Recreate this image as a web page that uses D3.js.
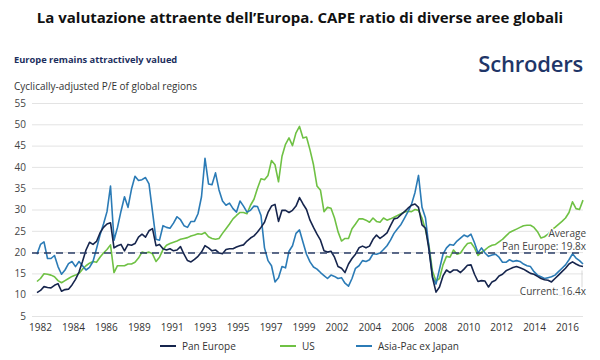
<!DOCTYPE html>
<html><head><meta charset="utf-8">
<script src="https://cdn.jsdelivr.net/npm/d3@7"></script>
<style>body{margin:0;background:#fff} text{font-family:"Open Sans",sans-serif}</style>
</head><body><svg id="c" width="600" height="360"></svg>
<script>
const tickLabels = ["1982","1984","1986","1989","1991","1993","1995","1997","1999","2002","2004","2006","2008","2010","2012","2014","2016"];
const yTicks = [5,10,15,20,25,30,35,40,45,50,55];
const seriesNames = ["Pan Europe","US","Asia-Pac ex Japan"];
const panEurope = [
10.5,11.0,11.9,11.7,11.6,12.2,12.6,10.8,11.2,11.3,
12.3,13.6,15.3,17.8,20.5,22.3,21.8,22.5,24.5,25.8,
26.6,26.9,21.0,21.5,21.8,20.3,21.8,21.6,22.0,23.5,
24.2,23.5,25.0,25.5,21.5,21.8,20.8,20.5,20.8,20.3,
20.5,21.3,19.5,18.0,17.7,18.3,19.0,20.0,21.5,21.0,
20.3,20.5,19.8,19.6,20.6,20.8,20.8,21.2,21.5,21.7,
22.6,23.3,23.8,24.7,25.8,27.0,29.3,30.8,31.2,27.2,
29.8,29.8,29.3,29.8,30.8,32.8,31.3,30.0,27.5,25.8,
24.2,22.8,20.3,20.0,20.2,18.8,16.6,16.2,15.2,17.2,
18.5,19.5,21.0,21.4,21.0,21.4,23.0,24.0,23.2,23.8,
24.5,26.2,27.8,28.0,28.8,29.5,30.3,31.0,31.3,30.5,
26.4,25.6,20.5,14.0,10.6,11.8,14.4,15.8,15.2,15.8,
15.8,15.2,16.0,16.9,17.0,14.8,13.1,13.3,13.2,11.8,
13.0,13.4,14.4,14.8,15.6,16.0,16.4,16.6,16.3,16.0,
15.5,15.0,14.8,14.3,13.8,13.5,13.4,13.0,13.8,14.6,
15.4,16.2,17.2,17.7,17.2,16.8,16.6];
const us = [
13.1,13.8,14.9,14.8,14.6,14.2,13.3,12.8,13.3,13.8,
14.3,14.6,15.0,16.0,16.8,17.4,17.8,17.6,18.8,19.8,
20.6,21.7,15.2,16.8,16.8,16.8,17.2,17.2,17.6,18.6,
20.0,19.8,20.0,19.6,17.8,18.8,20.6,21.6,22.0,22.3,
22.6,23.0,23.2,23.4,23.8,24.0,24.3,24.2,24.6,23.6,
23.2,23.0,23.2,24.4,25.5,26.6,27.8,28.6,29.3,29.3,
29.0,31.0,32.4,35.0,37.2,37.0,38.0,41.5,40.5,36.5,
42.5,45.3,46.8,45.0,48.0,49.5,46.8,47.0,44.0,40.5,
35.5,34.5,29.5,30.5,30.3,28.0,24.8,22.6,23.2,23.2,
25.5,26.6,27.8,27.8,27.5,27.0,28.0,27.2,27.0,28.0,
27.5,27.8,28.2,28.6,29.0,29.4,29.6,29.5,30.0,29.8,
28.0,25.2,21.5,15.5,13.2,13.8,17.0,19.0,18.8,20.5,
19.5,19.8,21.0,22.0,22.2,21.0,19.2,20.0,20.5,21.2,
21.6,21.8,22.4,23.0,23.8,24.6,25.0,25.4,25.8,26.2,
26.3,26.3,25.8,24.8,23.3,23.6,24.2,25.2,25.8,26.5,
27.2,28.0,29.3,31.8,30.2,30.0,32.2];
const asiaPac = [
19.5,21.8,22.4,18.5,18.5,19.2,16.6,14.8,15.8,17.3,
17.8,16.6,17.8,16.8,15.8,16.4,17.8,20.8,24.0,26.6,
29.5,35.5,22.8,25.8,29.6,33.0,30.5,34.8,37.8,36.8,
37.0,37.5,36.0,29.5,23.0,22.8,26.2,25.8,25.6,26.8,
28.3,27.6,26.2,25.8,27.2,27.2,29.0,33.0,42.0,36.0,
35.8,38.6,34.6,32.0,31.0,31.5,30.2,29.4,32.0,30.8,
29.4,29.8,30.8,30.7,28.6,21.0,18.0,16.8,13.0,14.0,
16.6,16.3,20.2,21.5,24.4,25.2,22.3,19.5,17.7,16.5,
16.0,15.2,14.5,13.8,14.6,14.3,13.8,14.0,12.7,12.0,
13.8,16.2,16.8,18.0,17.8,18.2,19.6,19.5,19.8,20.6,
21.5,22.8,24.4,25.5,26.5,28.0,29.5,31.2,34.0,38.0,
30.5,28.0,21.0,14.2,12.5,16.0,19.5,21.0,21.8,21.6,
22.6,23.3,24.0,23.6,24.2,22.2,19.8,21.0,19.8,19.0,
19.3,19.5,18.8,17.6,17.6,18.2,17.8,18.0,17.8,17.2,
16.8,16.6,15.4,14.6,14.2,13.8,14.0,14.2,14.6,15.4,
16.2,17.0,18.2,19.6,18.6,18.0,17.2];
const averageValue = 19.8;
const currentValue = 16.4;
const colors = {"Pan Europe":"#16254d","US":"#6fc144","Asia-Pac ex Japan":"#2b7bb6"};

const svg = d3.select("#c");
const N = panEurope.length;
const x = d3.scaleLinear().domain([0, N-1]).range([37, 583]);
const y = d3.scaleLinear().domain([5, 55]).range([316, 103]);
const xt = d3.scalePoint().domain(tickLabels).range([40, 567]);

// Titles
svg.append("text").attr("x",300).attr("y",23).attr("text-anchor","middle")
  .style("font-weight","700").style("font-size","15px").attr("fill","#111")
  .text("La valutazione attraente dell’Europa. CAPE ratio di diverse aree globali");
svg.append("text").attr("x",14).attr("y",63).style("font-weight","700").style("font-size","9.3px").attr("fill","#1d2f5e")
  .text("Europe remains attractively valued");
svg.append("text").attr("x",583).attr("y",72).attr("text-anchor","end").style("font-weight","600").style("font-size","22px").attr("fill","#1f3668")
  .style("letter-spacing","-0.2px").text("Schroders");
svg.append("text").attr("x",14).attr("y",90).style("font-size","10px").attr("fill","#333")
  .text("Cyclically-adjusted P/E of global regions");

// Grid + y labels
const yAxis = d3.axisLeft(y).tickValues(yTicks).tickSize(-(583-32)).tickPadding(6);
const gy = svg.append("g").attr("transform","translate(32,0)").call(yAxis);
gy.select(".domain").remove();
gy.selectAll(".tick line").attr("stroke","#e3e3e3");
gy.selectAll(".tick text").attr("fill","#444").style("font-size","10px").style("font-family","'Open Sans',sans-serif").attr("x",-6);

// X labels
const xAxis = d3.axisBottom(xt).tickSize(0).tickPadding(0);
const gx = svg.append("g").attr("transform","translate(0,324)").call(xAxis);
gx.select(".domain").remove();
gx.selectAll(".tick text").attr("fill","#333").style("font-size","10px").style("font-family","'Open Sans',sans-serif");

// Lines
const line = d3.line().x((d,i)=>x(i)).y(d=>y(d));
const data = [["US",us],["Asia-Pac ex Japan",asiaPac],["Pan Europe",panEurope]];
data.forEach(([name, vals]) => {
  svg.append("path").datum(vals).attr("d",line).attr("fill","none")
    .attr("stroke",colors[name]).attr("stroke-width",1.6).attr("stroke-linejoin","round");
});

// Average dashed line
svg.append("line").attr("x1",32).attr("x2",583).attr("y1",y(averageValue)).attr("y2",y(averageValue))
  .attr("stroke","#2a3d66").attr("stroke-width",1.5).attr("stroke-dasharray","7,5");

// leader for current
svg.append("line").attr("x1",582).attr("x2",582).attr("y1",y(currentValue)+3).attr("y2",y(currentValue)+20)
  .attr("stroke","#cfcfcf").attr("stroke-width",0.8);

function ann(txt, yy){
  svg.append("text").attr("x",586).attr("y",yy).attr("text-anchor","end").style("font-size","10px")
    .attr("fill","#444").attr("stroke","#fff").attr("stroke-width",2.5).attr("paint-order","stroke").text(txt);
}
ann("Average", 237);
ann("Pan Europe: " + averageValue + "x", 250);
ann("Current: " + currentValue + "x", 295);

// Legend
const legX = {"Pan Europe":160,"US":280,"Asia-Pac ex Japan":356};
seriesNames.forEach(n => {
  const g = svg.append("g").attr("transform",`translate(${legX[n]},346)`);
  g.append("line").attr("x1",0).attr("x2",16).attr("y1",0).attr("y2",0).attr("stroke",colors[n]).attr("stroke-width",2);
  g.append("text").attr("x",22).attr("y",3.5).style("font-size","10px").attr("fill","#333").text(n);
});
</script></body></html>
